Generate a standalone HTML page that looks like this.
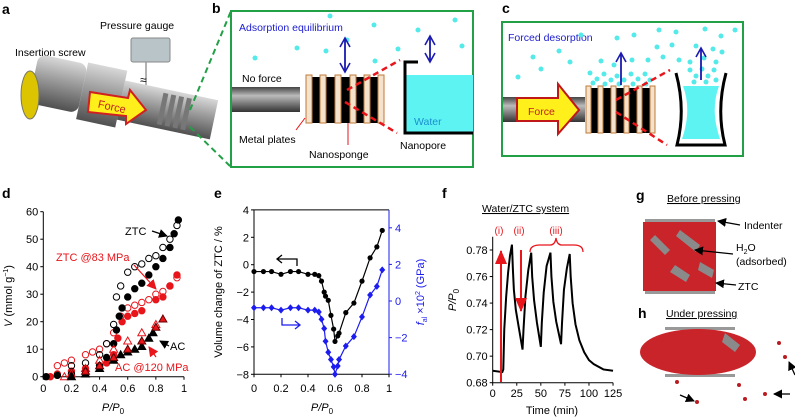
<!DOCTYPE html>
<html><head><meta charset="utf-8"><style>
html,body{margin:0;padding:0;background:#fff;}
svg{display:block;font-family:"Liberation Sans",sans-serif;}
</style></head><body>
<svg id="fig" xmlns="http://www.w3.org/2000/svg" width="795" height="419" viewBox="0 0 795 419">
<defs>
<linearGradient id="cyl" x1="0" y1="0" x2="0" y2="1"><stop offset="0" stop-color="#d8d8d8"/><stop offset="0.4" stop-color="#a0a0a0"/><stop offset="1" stop-color="#505050"/></linearGradient>
<linearGradient id="rod" x1="0" y1="0" x2="0" y2="1"><stop offset="0" stop-color="#444"/><stop offset="0.35" stop-color="#bbb"/><stop offset="1" stop-color="#333"/></linearGradient>
<marker id="ab" markerUnits="userSpaceOnUse" markerWidth="12" markerHeight="12" refX="10" refY="6" orient="auto-start-reverse"><path d="M1,1 L10,6 L1,11" fill="none" stroke="#1a1ab0" stroke-width="1.6"/></marker>
<marker id="ak" markerUnits="userSpaceOnUse" markerWidth="9" markerHeight="9" refX="8" refY="4.5" orient="auto"><path d="M0,0 L9,4.5 L0,9 Z" fill="#000"/></marker>
<marker id="ar" markerUnits="userSpaceOnUse" markerWidth="10" markerHeight="10" refX="9" refY="5" orient="auto"><path d="M0,0 L10,5 L0,10 Z" fill="#e8151b"/></marker>
<marker id="arb" markerUnits="userSpaceOnUse" markerWidth="14" markerHeight="12" refX="13" refY="6" orient="auto"><path d="M0,0 L14,6 L0,12 Z" fill="#e8151b"/></marker>
</defs>

<!-- panel a -->
<g>
<text x="2" y="14" font-size="14" font-weight="bold">a</text>
<text x="100" y="29" font-size="10.5">Pressure gauge</text>
<rect x="131" y="38" width="39" height="24" rx="2" fill="#b8c4c8" stroke="#888"/>
<line x1="146" y1="62" x2="146" y2="105" stroke="#999" stroke-width="1.5"/>
<text x="140" y="84" font-size="12">≈</text>
<text x="15" y="56" font-size="10.5">Insertion screw</text>
<g transform="rotate(12 120 105)">
<rect x="30" y="72" width="50" height="50" rx="8" fill="url(#cyl)"/>
<rect x="80" y="70" width="40" height="58" fill="url(#cyl)"/>
<rect x="120" y="80" width="95" height="40" fill="url(#cyl)"/>
<g fill="#777"><rect x="160" y="84" width="5" height="32"/><rect x="168" y="84" width="5" height="32"/><rect x="176" y="84" width="5" height="32"/><rect x="184" y="84" width="5" height="32"/></g>
</g>
<ellipse cx="30" cy="95" rx="9" ry="24" fill="#ddc400" stroke="#776"/>
<path d="M90,92 L128,98 L130,90 L146,110 L126,124 L126,116 L88,112 Z" fill="#ffef1a" stroke="#d02020" stroke-width="2"/>
<text x="98" y="110" font-size="11" fill="#c02020" transform="rotate(12 110 106)">Force</text>
<line x1="190" y1="110" x2="231" y2="11" stroke="#21a045" stroke-width="2" stroke-dasharray="6,4"/>
<line x1="190" y1="127" x2="231" y2="167" stroke="#21a045" stroke-width="2" stroke-dasharray="6,4"/>
</g>

<!-- panel b -->
<g>
<text x="212" y="13" font-size="14" font-weight="bold">b</text>
<rect x="231" y="11" width="242" height="156" fill="#fff" stroke="#21a045" stroke-width="2"/>
<text x="239" y="31" font-size="10.5" fill="#1c1cd0">Adsorption equilibrium</text>
<g fill="#55eaea">
<circle cx="330" cy="16" r="2.5"/><circle cx="374" cy="25" r="2.5"/><circle cx="418" cy="30" r="2.5"/><circle cx="255" cy="58" r="2.5"/><circle cx="297" cy="48" r="2.5"/><circle cx="326" cy="51" r="2.5"/><circle cx="347" cy="40" r="2.5"/><circle cx="375" cy="61" r="2.5"/><circle cx="398" cy="49" r="2.5"/><circle cx="455" cy="20" r="2.5"/><circle cx="462" cy="46" r="2.5"/>
</g>
<line x1="345" y1="38" x2="345" y2="72" stroke="#1a1ab0" stroke-width="1.8" marker-start="url(#ab)" marker-end="url(#ab)"/>
<line x1="430" y1="36" x2="430" y2="62" stroke="#1a1ab0" stroke-width="1.8" marker-start="url(#ab)" marker-end="url(#ab)"/>
<text x="242" y="82" font-size="10.5">No force</text>
<rect x="232" y="87" width="68" height="25" fill="url(#rod)"/>
<rect x="306" y="77" width="78" height="46" fill="#000"/>
<g fill="#f4e2cc" stroke="#c07a3a">
<rect x="306" y="75" width="6" height="48"/><rect x="320" y="75" width="6" height="48"/><rect x="335" y="75" width="6" height="48"/><rect x="350" y="75" width="6" height="48"/><rect x="364" y="75" width="6" height="48"/><rect x="378" y="75" width="6" height="48"/>
</g>
<line x1="347" y1="90" x2="400" y2="60" stroke="#e8151b" stroke-width="2.5" stroke-dasharray="6,4"/>
<line x1="345" y1="102" x2="397" y2="133" stroke="#e8151b" stroke-width="2.5" stroke-dasharray="6,4"/>
<rect x="405" y="75" width="68" height="57" fill="#5ef3f3"/>
<path d="M418,62 L405,62 L405,133 L473,133" fill="none" stroke="#000" stroke-width="3"/>
<text x="414" y="125" font-size="10.5" fill="#1a8fd0">Water</text>
<line x1="305" y1="118" x2="296" y2="130" stroke="#e8151b"/>
<line x1="348" y1="123" x2="348" y2="145" stroke="#e8151b"/>
<text x="239" y="143" font-size="10.5">Metal plates</text>
<text x="309" y="158" font-size="10.5">Nanosponge</text>
<text x="400" y="149" font-size="10.5">Nanopore</text>
</g>

<!-- panel c -->
<g>
<text x="502" y="13" font-size="14" font-weight="bold">c</text>
<rect x="502" y="22" width="241" height="134" fill="#fff" stroke="#21a045" stroke-width="2"/>
<text x="508" y="41" font-size="10.5" fill="#1c1cd0">Forced desorption</text>
<g fill="#55eaea">
<circle cx="533" cy="57" r="2.5"/><circle cx="518" cy="77" r="2.5"/><circle cx="541" cy="69" r="2.5"/><circle cx="559" cy="51" r="2.5"/><circle cx="570" cy="62" r="2.5"/><circle cx="581" cy="35" r="2.5"/><circle cx="617" cy="38" r="2.5"/><circle cx="634" cy="35" r="2.5"/><circle cx="659" cy="30" r="2.5"/><circle cx="676" cy="32" r="2.5"/><circle cx="705" cy="29" r="2.5"/><circle cx="721" cy="36" r="2.5"/><circle cx="735" cy="30" r="2.5"/><circle cx="657" cy="47" r="2.5"/><circle cx="672" cy="45" r="2.5"/><circle cx="696" cy="46" r="2.5"/><circle cx="713" cy="49" r="2.5"/><circle cx="722" cy="52" r="2.5"/><circle cx="601" cy="61" r="2.5"/><circle cx="614" cy="65" r="2.5"/><circle cx="632" cy="60" r="2.5"/><circle cx="648" cy="60" r="2.5"/><circle cx="663" cy="57" r="2.5"/><circle cx="679" cy="60" r="2.5"/><circle cx="690" cy="62" r="2.5"/><circle cx="704" cy="58" r="2.5"/><circle cx="716" cy="62" r="2.5"/>
<circle cx="590" cy="73" r="2.5"/><circle cx="597" cy="79" r="2.5"/><circle cx="604" cy="74" r="2.5"/><circle cx="611" cy="80" r="2.5"/><circle cx="617" cy="76" r="2.5"/><circle cx="624" cy="80" r="2.5"/><circle cx="631" cy="74" r="2.5"/><circle cx="638" cy="79" r="2.5"/><circle cx="645" cy="74" r="2.5"/><circle cx="650" cy="80" r="2.5"/><circle cx="593" cy="83" r="2.5"/><circle cx="605" cy="84" r="2.5"/><circle cx="619" cy="84" r="2.5"/><circle cx="633" cy="84" r="2.5"/><circle cx="646" cy="84" r="2.5"/>
<circle cx="690" cy="70" r="2.5"/><circle cx="696" cy="76" r="2.5"/><circle cx="702" cy="69" r="2.5"/><circle cx="708" cy="76" r="2.5"/><circle cx="714" cy="70" r="2.5"/><circle cx="694" cy="82" r="2.5"/><circle cx="706" cy="82" r="2.5"/><circle cx="716" cy="80" r="2.5"/>
</g>
<rect x="503" y="97" width="82" height="25" fill="url(#rod)"/>
<path d="M517,98 L558,98 L558,84 L579,110 L558,134 L558,121 L517,121 Z" fill="#ffef1a" stroke="#c01818" stroke-width="2"/>
<text x="528" y="115" font-size="10.5" fill="#c02020">Force</text>
<rect x="587" y="88" width="68" height="45" fill="#000"/>
<g fill="#f4e2cc" stroke="#c07a3a">
<rect x="586" y="86" width="5" height="47"/><rect x="598" y="86" width="5" height="47"/><rect x="611" y="86" width="5" height="47"/><rect x="624" y="86" width="5" height="47"/><rect x="637" y="86" width="5" height="47"/><rect x="650" y="86" width="5" height="47"/>
</g>
<line x1="621" y1="85" x2="621" y2="53" stroke="#1a1ab0" stroke-width="1.8" marker-end="url(#ab)"/>
<line x1="701" y1="80" x2="701" y2="48" stroke="#1a1ab0" stroke-width="1.8" marker-end="url(#ab)"/>
<line x1="616" y1="100" x2="670" y2="70" stroke="#e8151b" stroke-width="2.5" stroke-dasharray="6,4"/>
<line x1="616" y1="112" x2="667" y2="145" stroke="#e8151b" stroke-width="2.5" stroke-dasharray="6,4"/>
<path d="M683,86 L719,86 Q710,110 720,139 L682,139 Q692,110 683,86 Z" fill="#5ef3f3"/>
<path d="M676,73 Q686,110 677,145 L725,145 Q716,110 726,73" fill="none" stroke="#000" stroke-width="3"/>
</g>

<!-- panel labels row 2 -->
<text x="2" y="198" font-size="14" font-weight="bold">d</text>
<text x="214" y="198" font-size="14" font-weight="bold">e</text>
<text x="442" y="198" font-size="14" font-weight="bold">f</text>
<text x="636" y="200" font-size="14" font-weight="bold">g</text>
<text x="638" y="318" font-size="14" font-weight="bold">h</text>
<text x="482" y="212" font-size="10.5" text-decoration="underline">Water/ZTC system</text>
<text x="667" y="202" font-size="10.5" text-decoration="underline">Before pressing</text>
<text x="666" y="317" font-size="10.5" text-decoration="underline">Under pressing</text>

<!-- g, h simulation images -->
<g>
<rect x="645" y="219" width="70" height="3" fill="#999"/>
<rect x="645" y="291" width="70" height="3" fill="#999"/>
<rect x="643" y="222" width="73" height="69" fill="#c8242a"/>
<path d="M655,235 L670,250 L665,255 L650,240 Z M680,230 L700,245 L696,252 L676,236 Z M675,265 L690,275 L686,282 L670,272 Z M700,262 L714,270 L712,278 L698,270 Z" fill="#8a8a8a"/>
</g>
<g font-size="10.5">
<line x1="740" y1="225" x2="718" y2="221" stroke="#000" stroke-width="1.3" marker-end="url(#ak)"/>
<text x="744" y="229">Indenter</text>
<line x1="733" y1="254" x2="695" y2="250" stroke="#000" stroke-width="1.3" marker-end="url(#ak)"/>
<text x="736" y="251">H<tspan font-size="7" dy="3">2</tspan><tspan dy="-3">O</tspan></text>
<text x="736" y="265">(adsorbed)</text>
<line x1="736" y1="285" x2="716" y2="283" stroke="#000" stroke-width="1.3" marker-end="url(#ak)"/>
<text x="738" y="290">ZTC</text>
</g>
<g>
<rect x="665" y="327" width="70" height="3" fill="#999"/>
<rect x="665" y="374" width="70" height="3" fill="#999"/>
<ellipse cx="698" cy="352" rx="58" ry="23" fill="#c8242a"/>
<path d="M725,333 L740,345 L735,352 L722,342 Z" fill="#8a8a8a"/>
<g fill="#b81c20"><circle cx="677" cy="382" r="2"/><circle cx="739" cy="385" r="2"/><circle cx="765" cy="394" r="2"/><circle cx="779" cy="343" r="2"/><circle cx="785" cy="357" r="2"/><circle cx="745" cy="399" r="2"/><circle cx="697" cy="402" r="2"/></g>
<line x1="680" y1="395" x2="694" y2="401" stroke="#000" stroke-width="1.3" marker-end="url(#ak)"/>
<line x1="790" y1="394" x2="774" y2="394" stroke="#000" stroke-width="1.3" marker-end="url(#ak)"/>
<line x1="795" y1="375" x2="789" y2="362" stroke="#000" stroke-width="1.3" marker-end="url(#ak)"/>
</g>

<g id="charts"></g>
</svg>
<script>
// ---- panel d data ----
const dZtcAdsP = [0.02,0.1,0.2,0.3,0.4,0.45,0.5,0.52,0.54,0.56,0.6,0.65,0.7,0.75,0.8,0.85,0.9,0.93,0.96];
const dZtcAdsV = [0,0.5,1,2,4,7,12,17,22,25,29,32,34,37,40,43,47,52,57];
const dZtcDesP = [0.2,0.3,0.4,0.45,0.5,0.52,0.55,0.6,0.65,0.7,0.75,0.8,0.85,0.9,0.95];
const dZtcDesV = [4,5,8,12,19,29,33,38,40,41,43,44,47,50,55];
const dZ83AdsP = [0.05,0.1,0.2,0.3,0.4,0.45,0.5,0.53,0.56,0.6,0.65,0.7,0.8,0.85,0.9,0.95];
const dZ83AdsV = [0,1,2,3,4,5,8,14,20,22,23,24,28,29,33,37];
const dZ83DesP = [0.1,0.15,0.2,0.3,0.35,0.4,0.45,0.5,0.55,0.6,0.65,0.7,0.75,0.8,0.85,0.9,0.95];
const dZ83DesV = [4,5,6,8,9,10,12,16,22,25,26,27,28,30,31,33,36];
const dAcP = [0.2,0.3,0.4,0.5,0.55,0.6,0.65,0.7,0.75,0.78];
const dAcV = [0,1,3,6,8,9,10,11,14,16];
const dAcDesP = [0.15,0.2,0.3,0.4,0.5,0.6,0.7,0.8];
const dAcDesV = [0,1,3,6,10,13,16,19];
const dAc120P = [0.3,0.4,0.5,0.6,0.7,0.8,0.85];
const dAc120V = [2,4,7,10,13,18,21];
const dXTicks = [0,0.2,0.4,0.6,0.8,1];
const dXTickLabels = ["0","0.2","0.4","0.6","0.8","1"];
const dYTicks = [0,10,20,30,40,50,60];
// ---- panel e data ----
const eP = [0,0.07,0.13,0.2,0.27,0.33,0.4,0.45,0.48,0.5,0.52,0.53,0.55,0.57,0.59,0.6,0.62,0.63,0.68,0.74,0.8,0.86,0.91,0.95];
const eVol = [-0.5,-0.5,-0.5,-0.7,-0.5,-0.5,-0.7,-0.7,-0.8,-1.2,-2,-2.3,-2.6,-3.7,-4.7,-5.6,-5.2,-5.0,-3.5,-2.8,-1.2,0.5,1.3,2.5];
const eFal = [-0.37,-0.37,-0.37,-0.5,-0.37,-0.37,-0.5,-0.5,-0.6,-1.0,-1.5,-2.2,-2.8,-3.2,-3.6,-4,-3.55,-3.2,-2.46,-1.95,-0.87,0.33,0.8,1.7];
const eLTicks = [-8,-6,-4,-2,0,2,4];
const eRTicks = [-4,-2,0,2,4];
// ---- panel f data ----
const fT = [0,10,11,12,14,16,18,20,21,22,24,27,31,32,34,37,40,41,43,46,50,51,53,56,60,61,63,66,71,72,74,77,80,81,83,86,90,95,100,105,115,125];
const fP = [0.689,0.688,0.69,0.72,0.745,0.763,0.776,0.784,0.765,0.75,0.735,0.722,0.705,0.72,0.745,0.765,0.778,0.76,0.742,0.725,0.707,0.725,0.748,0.768,0.778,0.76,0.741,0.726,0.709,0.725,0.75,0.766,0.777,0.76,0.74,0.724,0.712,0.703,0.697,0.694,0.69,0.689];
const fXTicks = [0,25,50,75,100,125];
const fYTicks = [0.68,0.70,0.72,0.74,0.76,0.78];

const NS = "http://www.w3.org/2000/svg";
const root = document.getElementById('charts');
function mk(tag, attrs, parent){
  const e = document.createElementNS(NS, tag);
  for (const k in attrs) e.setAttribute(k, attrs[k]);
  (parent || root).appendChild(e);
  return e;
}
function txt(x,y,s,opt,parent){
  const t = mk('text', Object.assign({x:x,y:y,'font-size':11}, opt||{}), parent);
  t.textContent = s;
  return t;
}

// ===== panel d =====
const xd = p => 43.3 + p*140.7;
const yd = v => 376.7 - v*2.75;
const gd = mk('g', {});


let ax = mk('path', {d:`M${xd(0)},${yd(60)} V${yd(0)} H${xd(1)}`, fill:'none', stroke:'#000', 'stroke-width':1}, gd);


dYTicks.forEach(v => {
  const tk = mk('line', {x1:xd(0)-3, x2:xd(0), y1:yd(v), y2:yd(v), stroke:'#000'}, gd);
  
  
  const tl = txt(xd(0)-5, yd(v)+4, String(v), {'text-anchor':'end'}, gd);
  
  
});
dXTicks.forEach((p,i) => {
  const tk = mk('line', {x1:xd(p), x2:xd(p), y1:yd(0), y2:yd(0)+3, stroke:'#000'}, gd);
  
  
  const tl = txt(xd(p), 392, dXTickLabels[i], {'text-anchor':'middle'}, gd);
  
  
});
let t1 = txt(113, 411, '', {'text-anchor':'middle','font-style':'italic'}, gd);
t1.innerHTML = 'P/P<tspan font-size="8" dy="3" font-style="normal">0</tspan>';


let t2 = txt(0, 0, '', {transform:'translate(12,296) rotate(-90)', 'text-anchor':'middle'}, gd);
t2.innerHTML = '<tspan font-style="italic">V</tspan> (mmol g<tspan font-size="7" dy="-4">−1</tspan><tspan dy="4">)</tspan>';



function circles(P, V, fill, stroke, name){
  P.forEach((p,i) => {
    const c = mk('circle', {cx:xd(p), cy:yd(V[i]), r:3.2, fill:fill, stroke:stroke, 'stroke-width':1}, gd);
    
    
  });
}
function tris(P, V, fill, stroke, name){
  P.forEach((p,i) => {
    const x = xd(p), y = yd(V[i]);
    const c = mk('path', {d:`M${x},${y-4} L${x+4},${y+3} L${x-4},${y+3} Z`, fill:fill, stroke:stroke, 'stroke-width':1}, gd);
    
    
  });
}
circles(dZ83DesP, dZ83DesV, 'none', '#e8151b', 'ztc83-desorption-point');
circles(dZ83AdsP, dZ83AdsV, '#e8151b', '#e8151b', 'ztc83-adsorption-point');
circles(dZtcDesP, dZtcDesV, 'none', '#000', 'ztc-desorption-point');
circles(dZtcAdsP, dZtcAdsV, '#000', '#000', 'ztc-adsorption-point');
tris(dAcDesP, dAcDesV, 'none', '#e8151b', 'ac120-desorption-point');
tris(dAcP, dAcV, '#000', '#000', 'ac-adsorption-point');
tris(dAc120P, dAc120V, '#e8151b', '#600', 'ac120-adsorption-point');

const dAnn = [
  ['ZTC', 125, 235, '#000', 'ztc-annotation'],
  ['ZTC @83 MPa', 56, 261, '#e8151b', 'ztc83-annotation'],
  ['AC', 170, 350, '#000', 'ac-annotation'],
  ['AC @120 MPa', 115, 371, '#e8151b', 'ac120-annotation']
];
dAnn.forEach(a => {
  const t = txt(a[1], a[2], a[0], {fill:a[3]}, gd);
  
  
});
[[152,231,167,236,'ak','#000'],[134,265,156,289,'ar','#e8151b'],[169,346,160,341,'ak','#000'],[156,357,149,347,'ar','#e8151b']].forEach(a => {
  const l = mk('line', {x1:a[0], y1:a[1], x2:a[2], y2:a[3], stroke:a[5], 'stroke-width':1.2, 'marker-end':`url(#${a[4]})`}, gd);
  
  
});

// ===== panel e =====
const xe = p => 254 + p*135;
const yeL = v => 237.3 - (v-2)*13.7;
const yeR = v => 301 - v*18.3;
const ge = mk('g', {});


ax = mk('path', {d:`M${xe(1)},${yeL(4)} H${xe(0)} V${yeL(-8)} H${xe(1)}`, fill:'none', stroke:'#000'}, ge);


ax = mk('line', {x1:xe(1), x2:xe(1), y1:yeL(4), y2:yeL(-8), stroke:'#1c1cf0'}, ge);


eLTicks.forEach(v => {
  const tk = mk('line', {x1:xe(0)-3, x2:xe(0), y1:yeL(v), y2:yeL(v), stroke:'#000'}, ge);
  
  
  const tl = txt(xe(0)-5, yeL(v)+4, v < 0 ? '−' + (-v) : String(v), {'text-anchor':'end'}, ge);
  
  
});
eRTicks.forEach(v => {
  const tk = mk('line', {x1:xe(1), x2:xe(1)+3, y1:yeR(v), y2:yeR(v), stroke:'#1c1cf0'}, ge);
  
  
  const tl = txt(xe(1)+6, yeR(v)+4, v < 0 ? '−' + (-v) : String(v), {fill:'#1c1cf0'}, ge);
  
  
});
dXTicks.forEach((p,i) => {
  const tk = mk('line', {x1:xe(p), x2:xe(p), y1:yeL(-8), y2:yeL(-8)+3, stroke:'#000'}, ge);
  
  
  const tl = txt(xe(p), 392, dXTickLabels[i], {'text-anchor':'middle'}, ge);
  
  
});
t1 = txt(322, 411, '', {'text-anchor':'middle','font-style':'italic'}, ge);
t1.innerHTML = 'P/P<tspan font-size="8" dy="3" font-style="normal">0</tspan>';


t2 = txt(0, 0, 'Volume change of ZTC / %', {transform:'translate(222,292) rotate(-90)', 'text-anchor':'middle'}, ge);


let t3 = txt(0, 0, '', {transform:'translate(424,292) rotate(-90)', 'text-anchor':'middle', fill:'#1c1cf0'}, ge);
t3.innerHTML = '<tspan font-style="italic">f</tspan><tspan font-size="7" dy="3">al</tspan><tspan dy="-3"> ×10</tspan><tspan font-size="7" dy="-4">2</tspan><tspan dy="4"> (GPa)</tspan>';


let pl = mk('polyline', {points: eP.map((p,i)=>`${xe(p)},${yeL(eVol[i])}`).join(' '), fill:'none', stroke:'#000', 'stroke-width':1.2}, ge);


pl = mk('polyline', {points: eP.map((p,i)=>`${xe(p)},${yeR(eFal[i])}`).join(' '), fill:'none', stroke:'#1c1cf0', 'stroke-width':1.2}, ge);


eP.forEach((p,i) => {
  const c = mk('circle', {cx:xe(p), cy:yeL(eVol[i]), r:2.6, fill:'#000'}, ge);
  
  
  const x = xe(p), y = yeR(eFal[i]);
  const dm = mk('path', {d:`M${x},${y-3.5} L${x+3},${y} L${x},${y+3.5} L${x-3},${y} Z`, fill:'#1c1cf0'}, ge);
  
  
});
let ea = mk('path', {d:'M297,266 V259 H277 M282,255 L277,259 L282,263', fill:'none', stroke:'#000', 'stroke-width':1.3}, ge);


ea = mk('path', {d:'M282,318 V325 H300 M295,321 L300,325 L295,329', fill:'none', stroke:'#1c1cf0', 'stroke-width':1.3}, ge);



// ===== panel f =====
const xf = t => 492.7 + t*0.9627;
const yf = v => 250 - (v-0.78)*1327;
const gf = mk('g', {});


ax = mk('path', {d:`M${xf(0)},${yf(0.79)} V${yf(0.68)} H${xf(125)}`, fill:'none', stroke:'#000'}, gf);


fYTicks.forEach(v => {
  const tk = mk('line', {x1:xf(0)-3, x2:xf(0), y1:yf(v), y2:yf(v), stroke:'#000'}, gf);
  
  
  const tl = txt(xf(0)-5, yf(v)+4, v.toFixed(2), {'text-anchor':'end'}, gf);
  
  
});
fXTicks.forEach(t => {
  const tk = mk('line', {x1:xf(t), x2:xf(t), y1:yf(0.68), y2:yf(0.68)+3, stroke:'#000'}, gf);
  
  
  const tl = txt(xf(t), 397, String(t), {'text-anchor':'middle'}, gf);
  
  
});
t1 = txt(552, 414, 'Time (min)', {'text-anchor':'middle'}, gf);


t2 = txt(0, 0, '', {transform:'translate(456,300) rotate(-90)', 'text-anchor':'middle', 'font-style':'italic'}, gf);
t2.innerHTML = 'P/P<tspan font-size="8" dy="3" font-style="normal">0</tspan>';


pl = mk('polyline', {points: fT.map((t,i)=>`${xf(t)},${yf(fP[i])}`).join(' '), fill:'none', stroke:'#000', 'stroke-width':2}, gf);


let fa = mk('line', {x1:501, y1:382, x2:501, y2:251, stroke:'#e8151b', 'stroke-width':2, 'marker-end':'url(#arb)'}, gf);


fa = mk('line', {x1:521, y1:250, x2:521, y2:311, stroke:'#e8151b', 'stroke-width':2, 'marker-end':'url(#arb)'}, gf);


fa = mk('path', {d:'M530,252 Q530,245 540,245 H550 Q555,245 556,238 Q557,245 562,245 H574 Q583,245 583,252', fill:'none', stroke:'#e8151b', 'stroke-width':1.3}, gf);


[['(i)',499],['(ii)',519],['(iii)',556]].forEach(a => {
  const t = txt(a[1], 234, a[0], {'text-anchor':'middle', fill:'#e8151b', 'font-size':10}, gf);
  
  
});
</script>
</body></html>
